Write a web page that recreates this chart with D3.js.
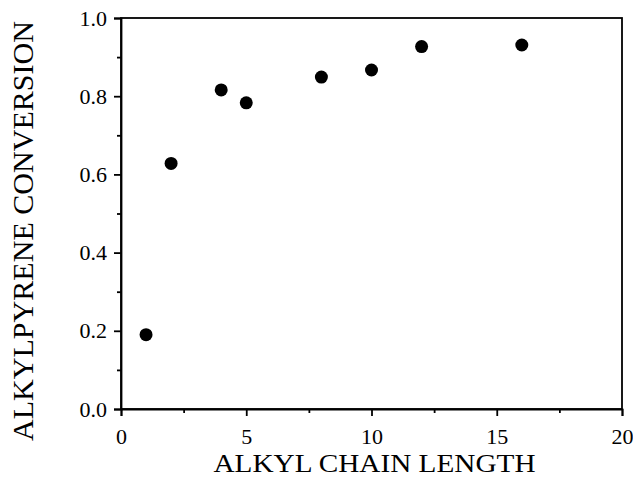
<!DOCTYPE html>
<html>
<head>
<meta charset="utf-8">
<script src="https://cdn.jsdelivr.net/npm/d3@7"></script>
<style>
  body { margin: 0; background: #fff; }
  svg { display: block; }
</style>
</head>
<body>
<div class="chart"></div>
<script>
// data
var chainLength = [1, 2, 4, 5, 8, 10, 12, 16];
var conversion = [0.19, 0.628, 0.816, 0.783, 0.849, 0.867, 0.927, 0.931];

var xTicks = [0, 5, 10, 15, 20];
var xMinor = [2.5, 7.5, 12.5, 17.5];
var yTicks = [0.0, 0.2, 0.4, 0.6, 0.8, 1.0];
var yMinor = [0.1, 0.3, 0.5, 0.7, 0.9];

var serif = "Liberation Serif";

var svgWidth = 633;
var svgHeight = 478;

var margin = { top: 18, right: 11, bottom: 69, left: 121 };
var width = svgWidth - margin.left - margin.right;
var height = svgHeight - margin.top - margin.bottom;

var svg = d3
  .select(".chart")
  .append("svg")
  .attr("width", svgWidth)
  .attr("height", svgHeight)
  .attr("font-family", serif);

var chartGroup = svg
  .append("g")
  .attr("transform", `translate(${margin.left}, ${margin.top})`);

var x = d3.scaleLinear().domain([0, 20]).range([0, width]);
var y = d3.scaleLinear().domain([0, 1]).range([height, 0]);

function styleAxis(g) {
  g.attr("font-family", serif).attr("font-size", 22);
  g.selectAll("path, line").attr("stroke", "#000").attr("stroke-width", 1.8);
  g.selectAll("text").attr("fill", "#000");
}

// frame
chartGroup
  .append("rect")
  .attr("width", width)
  .attr("height", height)
  .attr("fill", "none")
  .attr("stroke", "#000")
  .attr("stroke-width", 1.8);

// x axis
chartGroup
  .append("g")
  .attr("transform", `translate(0, ${height})`)
  .call(
    d3.axisBottom(x).tickValues(xTicks).tickSize(7).tickPadding(12).tickFormat(d3.format("d"))
  )
  .call(styleAxis);

chartGroup
  .append("g")
  .attr("transform", `translate(0, ${height})`)
  .call(d3.axisBottom(x).tickValues(xMinor).tickSize(4).tickFormat(""))
  .call(styleAxis)
  .select(".domain")
  .remove();

// y axis
chartGroup
  .append("g")
  .call(
    d3.axisLeft(y).tickValues(yTicks).tickSize(7).tickPadding(7).tickFormat(d3.format(".1f"))
  )
  .call(styleAxis);

chartGroup
  .append("g")
  .call(d3.axisLeft(y).tickValues(yMinor).tickSize(4).tickFormat(""))
  .call(styleAxis)
  .select(".domain")
  .remove();

// points
chartGroup
  .selectAll("circle")
  .data(chainLength)
  .enter()
  .append("circle")
  .attr("cx", (d) => x(d))
  .attr("cy", (d, i) => y(conversion[i]))
  .attr("r", 6.5)
  .attr("fill", "#000");

// axis titles
svg
  .append("text")
  .attr("x", margin.left + width / 2 + 3)
  .attr("y", 472.3)
  .attr("text-anchor", "middle")
  .attr("font-size", "26px")
  .attr("textLength", 322)
  .attr("lengthAdjust", "spacingAndGlyphs")
  .text("ALKYL CHAIN LENGTH");

svg
  .append("text")
  .attr("transform", "translate(33, 231) rotate(-90)")
  .attr("text-anchor", "middle")
  .attr("font-size", "29px")
  .attr("textLength", 420)
  .attr("lengthAdjust", "spacingAndGlyphs")
  .text("ALKYLPYRENE CONVERSION");
</script>
</body>
</html>
